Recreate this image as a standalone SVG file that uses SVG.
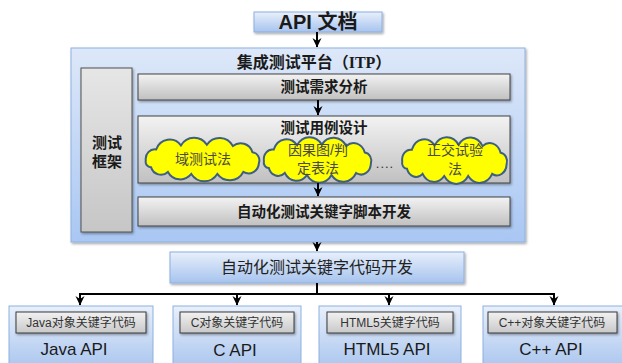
<svg xmlns="http://www.w3.org/2000/svg" width="622" height="363" viewBox="0 0 622 363">
<style>
.cjk{font-family:"Liberation Sans","Noto Sans CJK SC",sans-serif;}
.serif{font-family:"Liberation Serif","Noto Sans CJK SC",serif;}
.blue{fill:url(#gBlue);stroke:#8eb0df;stroke-width:1;}
.gray{fill:url(#gGray);stroke:#404040;stroke-width:1;}
.lbl{fill:url(#gLbl);stroke:#3a3a3a;stroke-width:1;}
.cloud{fill:#ffff00;stroke:#3e5f80;stroke-width:2;}
.conn{stroke:#000;stroke-width:2;fill:none;}
.arr{marker-end:url(#ah);}
.t-bold{font-weight:bold;fill:#1a1a1a;text-anchor:middle;}
.t-cl{font-size:14px;fill:#4a4a40;text-anchor:middle;}
.t-lbl{font-size:12px;fill:#333;text-anchor:middle;}
.t-api{font-size:17px;fill:#1a1a1a;text-anchor:middle;font-family:"Liberation Sans",sans-serif;}
</style>
<defs>
<linearGradient id="gBlue" x1="0" y1="0" x2="0" y2="1">
<stop offset="0" stop-color="#e8f0fb"/><stop offset="1" stop-color="#a6c3ee"/>
</linearGradient>
<linearGradient id="gPlat" x1="0" y1="0" x2="0" y2="1">
<stop offset="0" stop-color="#dde8f9"/><stop offset="1" stop-color="#a9c7f3"/>
</linearGradient>
<linearGradient id="gGray" x1="0" y1="0" x2="0" y2="1">
<stop offset="0" stop-color="#f3f3f3"/><stop offset="1" stop-color="#c0c0c0"/>
</linearGradient>
<linearGradient id="gFw" x1="0" y1="0" x2="0" y2="1">
<stop offset="0" stop-color="#e6e6e6"/><stop offset="1" stop-color="#c6c6c6"/>
</linearGradient>
<linearGradient id="gLbl" x1="0" y1="0" x2="0" y2="1">
<stop offset="0" stop-color="#f2f2f2"/><stop offset="1" stop-color="#c8c8c8"/>
</linearGradient>
<filter id="sh" x="-10%" y="-10%" width="120%" height="130%">
<feDropShadow dx="1.2" dy="1.5" stdDeviation="1" flood-color="#000" flood-opacity="0.35"/>
</filter>
<marker id="ah" markerUnits="userSpaceOnUse" markerWidth="10" markerHeight="10" viewBox="0 0 10 10" refX="9" refY="5" orient="auto">
<path d="M0,0.5 L9.5,5 L0,9.5 L3,5 Z" fill="#000"/>
</marker>
<path id="cloudShape" vector-effect="non-scaling-stroke" d="M-44,1 A7,7 0 0,1 -36,-7 A11,11 0 0,1 -17,-10 A12,12 0 0,1 3,-10.5 A12,12 0 0,1 23,-9.5 A9.5,9.5 0 0,1 38,-5 A6,6 0 0,1 43,3 A8,8 0 0,1 31,9.5 A12,12 0 0,1 11,11 A12,12 0 0,1 -9,11 A11,11 0 0,1 -27,9.5 A8,8 0 0,1 -40,6 A4,4 0 0,1 -44,1 Z"/>
</defs>

<g id="api-doc">
<rect class="blue" x="254" y="12" width="128" height="20" filter="url(#sh)"/>
<text class="cjk t-bold" x="318" y="29" font-size="20">API 文档</text>
</g>

<g id="platform">
<rect x="71" y="48" width="454" height="194" fill="url(#gPlat)" stroke="#8fb1e0" stroke-width="1" filter="url(#sh)"/>
<text class="serif t-bold" x="314" y="68" font-size="16">集成测试平台（ITP）</text>
</g>

<g id="framework">
<rect x="81" y="68" width="51" height="164" fill="url(#gFw)" stroke="#505050" stroke-width="1" filter="url(#sh)"/>
<text class="cjk t-bold" x="107" y="148" font-size="15">测试</text>
<text class="cjk t-bold" x="107" y="167" font-size="15">框架</text>
</g>

<g id="req-analysis">
<rect class="gray" x="138" y="74" width="372" height="26" filter="url(#sh)"/>
<text class="cjk t-bold" x="324" y="92" font-size="14.5">测试需求分析</text>
</g>

<g id="case-design">
<rect class="gray" x="138" y="116" width="372" height="67" filter="url(#sh)"/>
<text class="cjk t-bold" x="324" y="133" font-size="14.5">测试用例设计</text>
</g>

<g id="cloud-domain">
<use href="#cloudShape" class="cloud" transform="translate(203,159) scale(1.3,1.36)"/>
<text class="cjk t-cl" x="203" y="164">域测试法</text>
</g>

<g id="cloud-cause">
<use href="#cloudShape" class="cloud" transform="translate(318,159.5) scale(1.23,1.42)"/>
<text class="cjk t-cl" x="318" y="155">因果图/判</text>
<text class="cjk t-cl" x="318" y="173">定表法</text>
</g>

<g id="dots">
<text class="cjk" x="385" y="168" font-size="13" fill="#333" text-anchor="middle" letter-spacing="1">....</text>
</g>

<g id="cloud-orth">
<use href="#cloudShape" class="cloud" transform="translate(455,160) scale(1.2,1.46)"/>
<text class="cjk t-cl" x="455" y="155">正交试验</text>
<text class="cjk t-cl" x="455" y="174">法</text>
</g>

<g id="script-dev">
<rect class="gray" x="138" y="197" width="372" height="29" filter="url(#sh)"/>
<text class="cjk t-bold" x="324" y="217" font-size="14.5">自动化测试关键字脚本开发</text>
</g>

<g id="code-dev">
<rect class="blue" x="170" y="252" width="294" height="31" filter="url(#sh)"/>
<text class="cjk" x="317" y="273" font-size="16" fill="#222" text-anchor="middle">自动化测试关键字代码开发</text>
</g>

<g id="java-api">
<rect class="blue" x="9" y="306" width="144" height="66"/>
<rect class="lbl" x="16" y="312" width="130" height="21" filter="url(#sh)"/>
<text class="cjk t-lbl" x="81" y="327">Java对象关键字代码</text>
<text class="t-api" x="74" y="355">Java API</text>
</g>

<g id="c-api">
<rect class="blue" x="173" y="306" width="128" height="66"/>
<rect class="lbl" x="180" y="312" width="114" height="21" filter="url(#sh)"/>
<text class="cjk t-lbl" x="237" y="327">C对象关键字代码</text>
<text class="t-api" x="235" y="356">C API</text>
</g>

<g id="html5-api">
<rect class="blue" x="319" y="306" width="142" height="66"/>
<rect class="lbl" x="327" y="312" width="126" height="21" filter="url(#sh)"/>
<text class="cjk t-lbl" x="390" y="327">HTML5关键字代码</text>
<text class="t-api" x="387" y="355">HTML5 API</text>
</g>

<g id="cpp-api">
<rect class="blue" x="483" y="306" width="145" height="66"/>
<rect class="lbl" x="488" y="312" width="129" height="21" filter="url(#sh)"/>
<text class="cjk t-lbl" x="552" y="327">C++对象关键字代码</text>
<text class="t-api" x="551" y="355">C++ API</text>
</g>

<g id="connectors">
<line class="conn arr" x1="317" y1="32" x2="317" y2="47"/>
<line class="conn arr" x1="318" y1="100" x2="318" y2="115"/>
<line class="conn arr" x1="318" y1="183" x2="318" y2="196"/>
<line class="conn arr" x1="317" y1="242" x2="317" y2="251"/>
<line class="conn" x1="317" y1="283" x2="317" y2="294"/>
<line class="conn" x1="79" y1="294" x2="555" y2="294"/>
<line class="conn arr" x1="80" y1="294" x2="80" y2="305"/>
<line class="conn arr" x1="237" y1="294" x2="237" y2="305"/>
<line class="conn arr" x1="389" y1="294" x2="389" y2="305"/>
<line class="conn arr" x1="554" y1="294" x2="554" y2="305"/>
</g>
</svg>
